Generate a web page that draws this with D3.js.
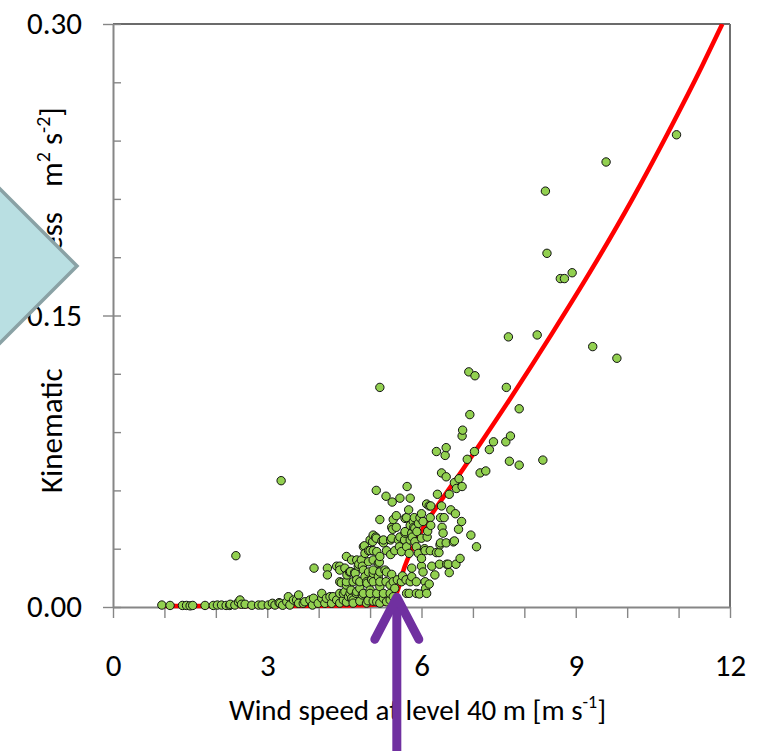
<!DOCTYPE html>
<html>
<head>
<meta charset="utf-8">
<script src="https://cdn.jsdelivr.net/npm/d3@7"></script>
<style>
html, body { margin: 0; padding: 0; background: #ffffff; }
svg { display: block; }
text { font-family: Carlito, Lato, "Open Sans", sans-serif; fill: #000; }
</style>
</head>
<body>
<svg id="chart" width="759" height="751"></svg>
<script>
// ---------- data ----------
const windSpeed = [
  0.95,1.11,1.35,1.43,1.50,1.55,1.79,1.95,2.03,2.11,2.20,2.27,2.28,2.37,2.39,2.44,2.47,2.50,2.57,2.70,
  2.83,2.90,3.02,3.10,3.15,3.23,3.25,3.27,3.30,3.38,3.41,3.44,3.51,3.57,3.61,3.61,3.70,3.73,3.83,3.88,
  3.90,3.91,3.99,4.06,4.06,4.12,4.15,4.17,4.17,4.22,4.25,4.28,4.35,4.35,4.41,4.41,4.41,4.41,4.41,4.44,
  4.48,4.48,4.51,4.51,4.54,4.54,4.54,4.54,4.55,4.58,4.60,4.62,4.61,4.63,4.64,4.64,4.67,4.67,4.67,4.70,
  4.71,4.73,4.74,4.74,4.74,4.77,4.78,4.80,4.80,4.80,4.83,4.85,4.85,4.87,4.87,4.87,4.89,4.90,4.90,4.93,
  4.93,4.94,4.96,4.97,4.97,4.97,5.00,5.00,5.00,5.00,5.03,5.05,5.06,5.06,5.06,5.06,5.06,5.06,5.06,5.11,
  5.12,5.12,5.13,5.13,5.13,5.16,5.16,5.18,5.19,5.19,5.19,5.19,5.19,5.19,5.19,5.23,5.26,5.26,5.26,5.26,
  5.29,5.31,5.31,5.32,5.32,5.32,5.39,5.39,5.39,5.40,5.40,5.42,5.42,5.42,5.43,5.44,5.45,5.45,5.45,5.48,
  5.48,5.51,5.51,5.53,5.55,5.57,5.58,5.58,5.61,5.61,5.63,5.67,5.68,5.68,5.68,5.70,5.71,5.71,5.71,5.72,
  5.75,5.76,5.76,5.78,5.78,5.78,5.78,5.81,5.81,5.81,5.82,5.84,5.85,5.86,5.87,5.87,5.90,5.90,5.90,5.91,
  5.94,5.94,5.96,5.97,6.00,6.00,6.00,6.00,6.03,6.03,6.06,6.07,6.07,6.08,6.10,6.10,6.11,6.12,6.15,6.15,
  6.17,6.17,6.18,6.18,6.20,6.26,6.29,6.29,6.31,6.34,6.35,6.36,6.37,6.37,6.39,6.39,6.40,6.42,6.44,6.46,
  6.48,6.48,6.48,6.49,6.52,6.54,6.54,6.57,6.62,6.64,6.64,6.66,6.67,6.68,6.72,6.73,6.75,6.78,6.79,6.79,
  6.80,6.89,6.92,6.94,6.96,7.03,7.04,7.07,7.14,7.25,7.32,7.40,7.64,7.65,7.69,7.71,7.73,7.90,7.90,8.25,
  8.36,8.41,8.44,8.70,8.78,8.93,9.33,9.59,9.80,10.96
];
const stress = [
  0.0010,0.0008,0.0008,0.0008,0.0006,0.0008,0.0008,0.0008,0.0010,0.0010,0.0008,0.0008,0.0014,0.0010,0.0264,0.0025,0.0036,0.0014,0.0014,0.0009,
  0.0010,0.0010,0.0010,0.0019,0.0010,0.0022,0.0019,0.0650,0.0009,0.0027,0.0053,0.0010,0.0036,0.0036,0.0062,0.0019,0.0019,0.0027,0.0036,0.0010,
  0.0045,0.0200,0.0019,0.0045,0.0070,0.0019,0.0045,0.0200,0.0165,0.0053,0.0019,0.0053,0.0036,0.0210,0.0210,0.0070,0.0190,0.0130,0.0020,0.0125,
  0.0036,0.0070,0.0079,0.0200,0.0260,0.0113,0.0130,0.0025,0.0165,0.0053,0.0180,0.0182,0.0070,0.0087,0.0045,0.0242,0.0036,0.0130,0.0020,0.0177,
  0.0173,0.0070,0.0140,0.0242,0.0079,0.0210,0.0220,0.0096,0.0130,0.0030,0.0242,0.0210,0.0062,0.0310,0.0190,0.0070,0.0315,0.0156,0.0276,0.0130,
  0.0020,0.0122,0.0032,0.0290,0.0180,0.0233,0.0290,0.0087,0.0345,0.0070,0.0140,0.0336,0.0370,0.0173,0.0242,0.0190,0.0130,0.0030,0.0290,0.0360,
  0.0600,0.0354,0.0027,0.0285,0.0070,0.0156,0.0225,0.0230,0.0260,0.0450,0.0105,0.1130,0.0180,0.0130,0.0020,0.0340,0.0330,0.0345,0.0045,0.0070,
  0.0190,0.0570,0.0130,0.0290,0.0180,0.0027,0.0113,0.0036,0.0070,0.0270,0.0345,0.0410,0.0168,0.0354,0.0540,0.0400,0.0450,0.0053,0.0130,0.0290,
  0.0096,0.0470,0.0410,0.0140,0.0345,0.0310,0.0560,0.0360,0.0285,0.0130,0.0160,0.0345,0.0380,0.0456,0.0388,0.0140,0.0460,0.0310,0.0070,0.0620,
  0.0500,0.0276,0.0070,0.0560,0.0420,0.0345,0.0130,0.0200,0.0156,0.0380,0.0360,0.0440,0.0410,0.0460,0.0405,0.0336,0.0310,0.0070,0.0130,0.0388,
  0.0276,0.0430,0.0067,0.0460,0.0480,0.0210,0.0354,0.0250,0.0180,0.0440,0.0300,0.0290,0.0130,0.0096,0.0530,0.0070,0.0360,0.0390,0.0520,0.0118,
  0.0290,0.0460,0.0520,0.0420,0.0210,0.0165,0.0280,0.0800,0.0580,0.0280,0.0220,0.0320,0.0460,0.0330,0.0690,0.0520,0.0410,0.0380,0.0460,0.0780,
  0.0820,0.0670,0.0330,0.0220,0.0220,0.0580,0.0177,0.0500,0.0335,0.0640,0.0340,0.0480,0.0220,0.0610,0.0400,0.0660,0.0250,0.0440,0.0620,0.0880,
  0.0910,0.0760,0.1210,0.0990,0.0370,0.0800,0.1190,0.0310,0.0690,0.0700,0.0810,0.0850,0.0850,0.1130,0.1390,0.0750,0.0880,0.1020,0.0730,0.1400,
  0.0756,0.2140,0.1820,0.1690,0.1690,0.1720,0.1340,0.2290,0.1280,0.2430
];
// fitted curve, points
const fitSpeed  = [1.00, 2.00, 3.00, 4.00, 4.60, 5.00, 5.20, 5.35, 5.48, 5.58, 5.65, 5.72, 5.84, 6.04, 6.36, 6.81, 7.04, 7.75, 8.54, 9.34, 10.09, 10.79, 11.45, 11.85];
const fitStress = [0.0005,0.0005,0.0005,0.0006,0.0008,0.0010,0.0015,0.0020,0.0050,0.0120,0.0190,0.0240,0.0310,0.0410,0.0540,0.0710,0.0800,0.1082,0.1408,0.1751,0.2094,0.2438,0.2780,0.3000];

const xTickLabels = [0, 3, 6, 9, 12];
const xMinorTicks = [0, 1, 2, 3, 4, 5, 6, 7, 8, 9, 10, 11, 12];
const yTickLabels = [0.00, 0.15, 0.30];
const yMinorTicks = [0.00, 0.03, 0.06, 0.09, 0.12, 0.15, 0.18, 0.21, 0.24, 0.27, 0.30];
const arrowSpeed = 5.52;     // where the purple arrow points
const arrowStress = 0.005;

// ---------- layout ----------
const svg = d3.select("#chart");
const X0 = 113, X1 = 730, Y0 = 607, Y1 = 24;
const x = d3.scaleLinear().domain([0, 12]).range([X0, X1]);
const y = d3.scaleLinear().domain([0, 0.30]).range([Y0, Y1]);
const axisColor = "#868686";

svg.append("defs").append("clipPath").attr("id", "plotclip")
  .append("rect").attr("x", X0).attr("y", Y1).attr("width", X1 - X0).attr("height", Y0 - Y1 + 15);

// plot border (top & right)
svg.append("line").attr("x1", X0).attr("x2", X1).attr("y1", Y1).attr("y2", Y1)
  .attr("stroke", "#3a3a3a").attr("stroke-width", 1.3);
svg.append("line").attr("x1", X1).attr("x2", X1).attr("y1", Y1).attr("y2", Y0)
  .attr("stroke", "#707070").attr("stroke-width", 2);

// y axis: minor ticks (inside)
svg.append("g").attr("transform", `translate(${X0},0)`)
  .call(d3.axisRight(y).tickValues(yMinorTicks).tickSize(8).tickSizeOuter(0).tickFormat(""))
  .call(g => g.select(".domain").remove())
  .call(g => g.selectAll(".tick line").attr("stroke", axisColor).attr("stroke-width", 1.4));

// y axis: major ticks + labels
svg.append("g").attr("class", "yaxis").attr("transform", `translate(${X0},0)`)
  .call(d3.axisLeft(y).tickValues(yTickLabels).tickSize(10).tickSizeOuter(0).tickPadding(21).tickFormat(d3.format(".2f")))
  .call(g => g.select(".domain").attr("stroke", axisColor).attr("stroke-width", 2))
  .call(g => g.selectAll(".tick line").attr("stroke", axisColor).attr("stroke-width", 1.4))
  .call(g => g.selectAll(".tick text").attr("font-size", 31).attr("fill", "#000")
    .style("font-family", "Carlito, Lato, sans-serif"));

// x axis: ticks
svg.append("g").attr("transform", `translate(0,${Y0})`)
  .call(d3.axisBottom(x).tickValues(xMinorTicks).tickSize(11).tickSizeOuter(0).tickFormat(""))
  .call(g => g.select(".domain").attr("stroke", axisColor).attr("stroke-width", 2))
  .call(g => g.selectAll(".tick line").attr("stroke", axisColor).attr("stroke-width", 1.4));

// x axis: labels
svg.append("g").attr("transform", `translate(0,${Y0})`)
  .call(d3.axisBottom(x).tickValues(xTickLabels).tickSize(0).tickSizeOuter(0).tickPadding(47).tickFormat(d3.format("d")))
  .call(g => g.select(".domain").remove())
  .call(g => g.selectAll(".tick text").attr("font-size", 31).attr("fill", "#000")
    .style("font-family", "Carlito, Lato, sans-serif"));

// fitted curve
const line = d3.line().x(d => x(d[0])).y(d => y(d[1])).curve(d3.curveMonotoneX);
svg.append("path")
  .datum(fitSpeed.map((s, i) => [s, fitStress[i]]))
  .attr("clip-path", "url(#plotclip)")
  .attr("d", line)
  .attr("fill", "none")
  .attr("stroke", "#ff0000")
  .attr("stroke-width", 4.5)
  .attr("stroke-linejoin", "round");

// scatter points
svg.append("g").selectAll("circle")
  .data(windSpeed.map((s, i) => [s, stress[i]]))
  .join("circle")
  .attr("cx", d => x(d[0]))
  .attr("cy", d => y(d[1]))
  .attr("r", 4.2)
  .attr("fill", "#92d050")
  .attr("stroke", "#111")
  .attr("stroke-width", 1);

// x title
const xt = svg.append("text").attr("x", (X0 + X1) / 2 - 4).attr("y", 720)
  .attr("text-anchor", "middle").attr("font-size", 29);
xt.append("tspan").text("Wind speed at level 40 m [m s");
xt.append("tspan").attr("font-size", 18).attr("dy", -12).text("-1");
xt.append("tspan").attr("dy", 12).text("]");

// y title (rotated)
const yt = svg.append("g").attr("transform", "translate(62,0) rotate(-90)");
yt.append("text").attr("x", -493).attr("y", 0).attr("font-size", 31).text("Kinematic");
yt.append("text").attr("x", -212).attr("y", 0).attr("font-size", 31).attr("text-anchor", "end").text("stress");
const yu = yt.append("text").attr("x", -187).attr("y", 0).attr("font-size", 31);
yu.append("tspan").text("m");
yu.append("tspan").attr("font-size", 20).attr("dy", -12).text("2");
yu.append("tspan").attr("dy", 12).text(" s");
yu.append("tspan").attr("font-size", 20).attr("dy", -12).text("-2");
yu.append("tspan").attr("dy", 12).text("]");

// callout shape on the left
svg.append("polygon")
  .attr("points", [[-40, 149], [77, 266], [-40, 383]].map(p => p.join(",")).join(" "))
  .attr("fill", "#b9dfe2")
  .attr("stroke", "#8aa2a5")
  .attr("stroke-width", 3.5)
  .attr("stroke-linejoin", "miter");

// purple arrow
const ax = x(arrowSpeed), ay = y(arrowStress);
const arrow = svg.append("g").attr("fill", "none").attr("stroke", "#7030a0")
  .attr("stroke-width", 9).attr("stroke-linecap", "round").attr("stroke-linejoin", "round");
arrow.append("line").attr("x1", ax).attr("x2", ax).attr("y1", ay + 2).attr("y2", 770);
arrow.append("path").attr("d", `M${ax - 22},${ay + 42} L${ax},${ay} L${ax + 22},${ay + 42}`);
</script>
</body>
</html>
